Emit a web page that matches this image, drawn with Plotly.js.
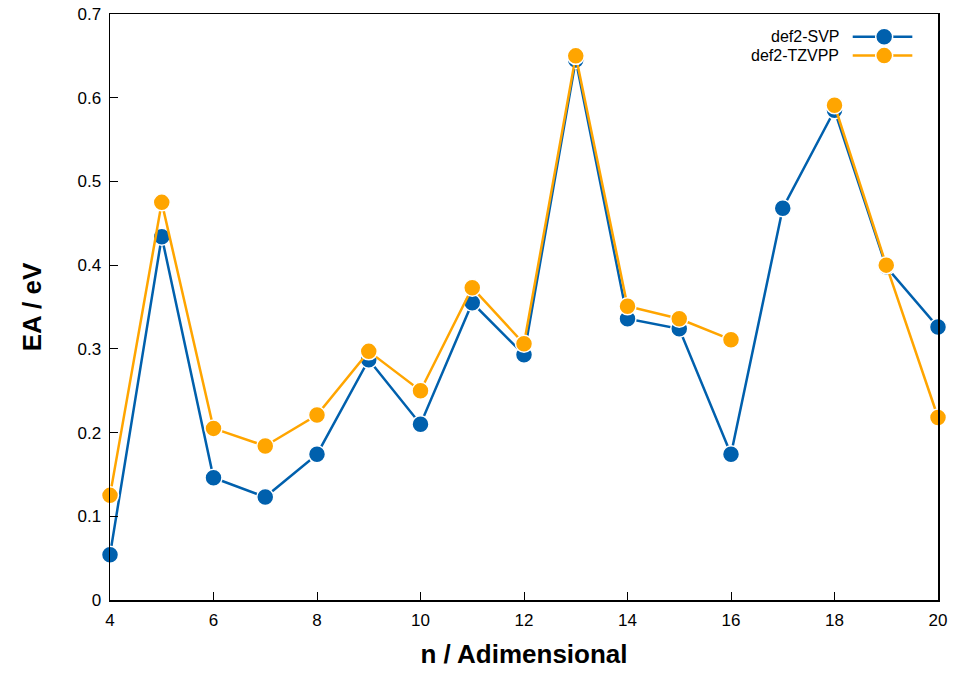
<!DOCTYPE html>
<html><head><meta charset="utf-8">
<script src="https://cdn.plot.ly/plotly-3.0.1.min.js"></script>
<style>html,body{margin:0;padding:0;background:#fff}</style>
</head><body>
<div id="chart" style="width:957px;height:673px"></div>
<script>
const nValues = [4,5,6,7,8,9,10,11,12,13,14,15,16,17,18,19,20];
const svpEA   = [0.054,0.434,0.146,0.123,0.174,0.287,0.210,0.355,0.293,0.645,0.336,0.324,0.174,0.468,0.585,0.398,0.326];
const tzvppEA = [0.125,0.475,0.205,0.184,0.221,0.297,0.250,0.373,0.306,0.650,0.351,0.336,0.311,null,0.591,0.400,0.218];
const seriesNames = ['def2-SVP','def2-TZVPP'];
const xTicks = [4,6,8,10,12,14,16,18,20];
const yTicks = [0,0.1,0.2,0.3,0.4,0.5,0.6,0.7];
const yTickText = ['0','0.1','0.2','0.3','0.4','0.5','0.6','0.7'];

const blue = '#0060ad', orange = '#ffa500';
const font = 'Liberation Sans, Arial, sans-serif';

function tr(y, name, color){
  return {x:nValues, y:y, name:name, mode:'lines+markers', connectgaps:false,
    line:{color:color, width:2.5},
    marker:{color:color, size:17, line:{color:'#ffffff', width:1.5}},
    showlegend:false, cliponaxis:false};
}
const data = [tr(svpEA, seriesNames[0], blue), tr(tzvppEA, seriesNames[1], orange)];

const legRows = [{y:0.961, c:blue, t:seriesNames[0]},{y:0.929, c:orange, t:seriesNames[1]}];
const shapes = [], annotations = [];
legRows.forEach(r=>{
  shapes.push({type:'line', xref:'paper', yref:'paper', x0:0.897, x1:0.969, y0:r.y, y1:r.y, line:{color:r.c, width:2.5}});
  shapes.push({type:'circle', xref:'paper', yref:'paper', xsizemode:'pixel', ysizemode:'pixel',
    xanchor:0.935, yanchor:r.y, x0:-8.5, x1:8.5, y0:-8.5, y1:8.5, fillcolor:r.c, line:{color:'#ffffff', width:1.5}});
  annotations.push({xref:'paper', yref:'paper', x:0.882, y:r.y, xanchor:'right', yanchor:'middle',
    text:r.t, showarrow:false, borderpad:0, font:{family:font, size:16, color:'#000'}});
});

const layout = {
  width:957, height:673,
  margin:{l:110, r:19, t:14, b:73},
  paper_bgcolor:'#fff', plot_bgcolor:'#fff',
  font:{family:font, size:16, color:'#000'},
  xaxis:{range:[4,20], tickvals:xTicks, ticktext:xTicks.map(String), ticks:'inside', ticklen:8, tickcolor:'#000',
    showgrid:false, zeroline:false, showline:true, mirror:true, linecolor:'#000', linewidth:1.5,
    ticklabelstandoff:4,
    tickfont:{family:font, size:17}, title:{text:'<b>n / Adimensional</b>', font:{family:font, size:26}, standoff:16}},
  yaxis:{range:[0,0.7], tickvals:yTicks, ticktext:yTickText, ticks:'inside', ticklen:8, tickcolor:'#000',
    showgrid:false, zeroline:false, showline:true, mirror:true, linecolor:'#000', linewidth:1.5,
    ticklabelstandoff:4,
    tickfont:{family:font, size:17}, title:{text:'<b>EA / eV</b>', font:{family:font, size:26}, standoff:28}},
  shapes:shapes, annotations:annotations
};
Plotly.newPlot('chart', data, layout, {displayModeBar:false, staticPlot:true});
</script>
</body></html>
